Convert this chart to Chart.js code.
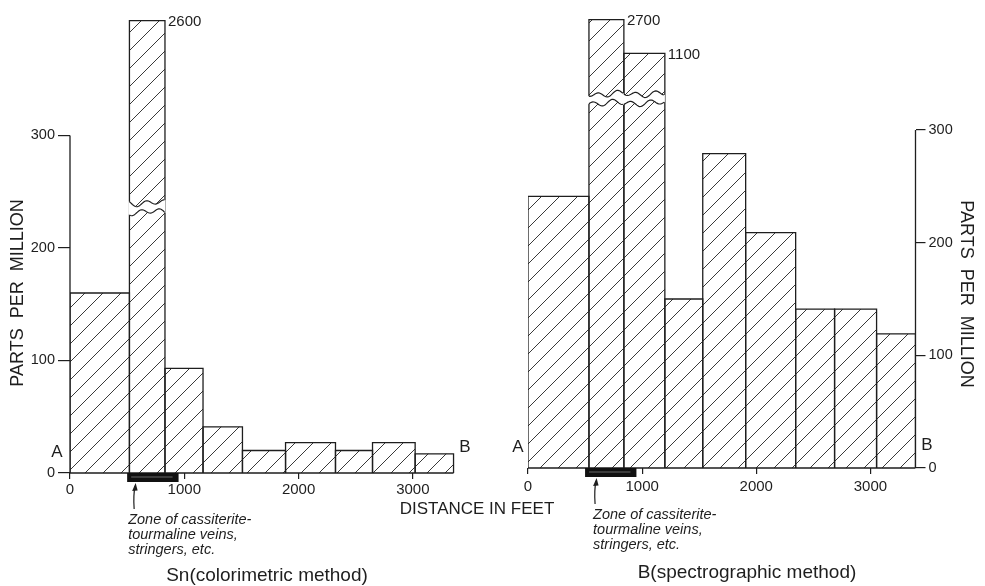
<!DOCTYPE html>
<html><head><meta charset="utf-8">
<script src="https://cdn.jsdelivr.net/npm/chart.js@4.4.1/dist/chart.umd.min.js"></script>
<style>
html,body{margin:0;padding:0;background:#fff;}
#wrap{position:relative;width:985px;height:586px;background:#fff;}
canvas{position:absolute;left:0;top:0;}
</style></head><body>
<div id="wrap"><canvas id="sn" width="985" height="586"></canvas><canvas id="bo" width="985" height="586"></canvas></div>
<script>
// ---------- DATA ----------
// Sn (colorimetric): sample interval boundaries (feet) and values (ppm)
const snEdges   = [0, 520, 831, 1164, 1509, 1886, 2323, 2647, 3020, 3356];
const snValues  = [160, 2600, 93, 41, 20, 27, 20, 27, 17];
// height at which an off-scale bar is drawn (in axis units), and its break band
const snShownTop = [null, 402, null, null, null, null, null, null, null];
const snBreak   = [232, 240];
// B (spectrographic)
const bEdges    = [0, 534, 840, 1199, 1531, 1907, 2345, 2686, 3054, 3395];
const bValues   = [241, 2700, 1100, 150, 279, 209, 141, 141, 119];
const bShownTop = [null, 398, 368, null, null, null, null, null, null];
const bBreak    = [324, 332];
// axes
const xTickValues = [0, 1000, 2000, 3000];
const yTickValues = [0, 100, 200, 300];
const zoneFeet = [500, 950];

const FONT = '"Liberation Sans", Arial, sans-serif';
const INK = '#1e1e1e';

function hatchPattern(){
  const s = 18, c = document.createElement('canvas');
  c.width = s; c.height = s;
  const g = c.getContext('2d');
  g.strokeStyle = '#3a3a3a'; g.lineWidth = 1;
  g.beginPath();
  g.moveTo(-2, s+2); g.lineTo(s+2, -2);
  g.moveTo(-2, 2); g.lineTo(2, -2);
  g.moveTo(s-2, s+2); g.lineTo(s+2, s-2);
  g.stroke();
  return g.createPattern(c, 'repeat');
}

function barDatasets(edges, values, shown){
  const pat = hatchPattern();
  return values.map((v, i) => {
    const h = shown[i] != null ? shown[i] : v;
    return {
      data: [{x: edges[i], y: 0}, {x: edges[i], y: h}, {x: edges[i+1], y: h}, {x: edges[i+1], y: 0}],
      showLine: true, fill: 'origin', backgroundColor: pat,
      borderColor: INK, borderWidth: 1.3, pointRadius: 0, tension: 0
    };
  });
}

function wavePath(x0, x1, y, phase, forward){
  const pts = [];
  for (let x = x0; x <= x1 + 0.01; x += 1) {
    pts.push([x, y + 2.4*Math.sin((x + phase)/3.0) + 1.4*Math.sin((x+phase)/6.7)]);
  }
  if (!forward) pts.reverse();
  return pts;
}

function annotPlugin(o){
  return {
    id: 'annot',
    afterDatasetsDraw(chart){
      const ctx = chart.ctx, xs = chart.scales.x, ys = chart.scales.y;
      const y0 = ys.getPixelForValue(0);
      ctx.save();
      // axis break (white band with wavy edges)
      o.shown.forEach((sh, i) => {
        if (sh == null) return;
        const xa = xs.getPixelForValue(o.edges[i]), xb = xs.getPixelForValue(o.edges[i+1]);
        const yl = ys.getPixelForValue(o.brk[0]), yu = ys.getPixelForValue(o.brk[1]);
        const up = wavePath(xa - 1, xb + 1, yu, 0, true);
        const lo = wavePath(xa - 1, xb + 1, yl, 5, false);
        ctx.fillStyle = '#fff';
        ctx.beginPath();
        up.forEach((p, k) => k ? ctx.lineTo(p[0], p[1]) : ctx.moveTo(p[0], p[1]));
        lo.forEach(p => ctx.lineTo(p[0], p[1]));
        ctx.closePath(); ctx.fill();
        ctx.strokeStyle = INK; ctx.lineWidth = 1.2;
        [wavePath(xa, xb, yu, 0, true), wavePath(xa, xb, yl, 5, true)].forEach(w => {
          ctx.beginPath();
          w.forEach((p, k) => k ? ctx.lineTo(p[0], p[1]) : ctx.moveTo(p[0], p[1]));
          ctx.stroke();
        });
        // true value label
        ctx.fillStyle = INK; ctx.font = '15px ' + FONT;
        ctx.textAlign = 'left'; ctx.textBaseline = 'middle';
        ctx.fillText(String(o.values[i]), xb + 3, ys.getPixelForValue(sh) + 1);
      });
      // baseline and vertical axis line
      ctx.strokeStyle = INK; ctx.lineWidth = 1.3;
      ctx.beginPath();
      ctx.moveTo(xs.getPixelForValue(0), y0);
      ctx.lineTo(xs.getPixelForValue(o.edges[o.edges.length-1]), y0);
      const ax = o.side === 'left' ? chart.chartArea.left : chart.chartArea.right;
      ctx.moveTo(ax, y0); ctx.lineTo(ax, ys.getPixelForValue(yTickValues[yTickValues.length-1]));
      ctx.stroke();
      // zone bar
      const zx0 = xs.getPixelForValue(zoneFeet[0]), zx1 = xs.getPixelForValue(zoneFeet[1]);
      ctx.fillStyle = '#111';
      ctx.fillRect(zx0, y0, zx1 - zx0, 9);
      ctx.fillStyle = '#3c3c3c';
      ctx.fillRect(zx0 + 4, y0 + 3, zx1 - zx0 - 10, 2);
      // arrow
      const axr = zx0 + o.arrowDx;
      ctx.strokeStyle = INK; ctx.lineWidth = 1.2;
      ctx.beginPath();
      ctx.moveTo(axr - 1, y0 + 36);
      ctx.quadraticCurveTo(axr - 2, y0 + 22, axr, y0 + 13);
      ctx.stroke();
      ctx.fillStyle = INK;
      ctx.beginPath();
      ctx.moveTo(axr + 0.5, y0 + 10); ctx.lineTo(axr - 3, y0 + 18); ctx.lineTo(axr + 2.5, y0 + 17.5);
      ctx.closePath(); ctx.fill();
      // zone text
      ctx.font = 'italic 14.5px ' + FONT; ctx.textAlign = 'left'; ctx.textBaseline = 'middle';
      ['Zone of cassiterite-', 'tourmaline veins,', 'stringers, etc.'].forEach((t, k) => {
        ctx.fillText(t, zx0 + o.textDx, y0 + 47 + 15*k);
      });
      // A / B
      ctx.font = '17px ' + FONT; ctx.textAlign = 'center';
      ctx.fillText('A', o.A[0], o.A[1]);
      ctx.fillText('B', o.B[0], o.B[1]);
      // caption
      ctx.font = '19px ' + FONT;
      ctx.fillText(o.caption, o.capPos[0], o.capPos[1]);
      // vertical axis title
      ctx.font = '18px ' + FONT;
      ctx.translate(o.yTitle[0], o.yTitle[1]);
      ctx.rotate(o.side === 'left' ? -Math.PI/2 : Math.PI/2);
      ctx.fillText('PARTS  PER  MILLION', 0, 0);
      ctx.setTransform(1,0,0,1,0,0);
      if (o.xTitle) {
        ctx.font = '17px ' + FONT;
        ctx.fillText('DISTANCE IN FEET', o.xTitle[0], o.xTitle[1]);
      }
      ctx.restore();
    }
  };
}

function makeChart(id, o){
  const c = document.getElementById(id);
  return new Chart(c, {
    type: 'scatter',
    data: { datasets: barDatasets(o.edges, o.values, o.shown) },
    options: {
      responsive: false, animation: false, devicePixelRatio: 1,
      layout: { padding: o.pad },
      plugins: { legend: {display: false}, tooltip: {enabled: false} },
      scales: {
        x: {
          type: 'linear', min: 0, max: o.xMax,
          afterFit(s){ s.height = 30; },
          afterBuildTicks(s){ s.ticks = xTickValues.map(v => ({value: v})); },
          ticks: { callback: v => String(v), font: {family: FONT, size: 15}, color: INK, padding: o.xPad, maxRotation: 0, autoSkip: false },
          grid: { drawOnChartArea: false, drawTicks: true, tickLength: 6, color: INK, lineWidth: 1.2 },
          border: { display: false }
        },
        y: {
          type: 'linear', position: o.side, min: 0, max: o.yMax,
          afterFit(s){ s.width = o.yW; },
          afterBuildTicks(s){ s.ticks = yTickValues.map(v => ({value: v})); },
          ticks: { callback: v => String(v), font: {family: FONT, size: 14.5}, color: INK, padding: 3 },
          grid: { drawOnChartArea: false, drawTicks: true, tickLength: o.yTick, color: INK, lineWidth: 1.2 },
          border: { display: false }
        }
      }
    },
    plugins: [annotPlugin(o)]
  });
}

makeChart('sn', {
  edges: snEdges, values: snValues, shown: snShownTop, brk: snBreak, side: 'left',
  pad: {left: 0, right: 515, top: 8.5, bottom: 83}, xMax: 3500, yMax: 410, yW: 70, yTick: 12, xPad: 2,
  arrowDx: 8, textDx: 1, A: [57, 452], B: [465, 447], caption: 'Sn(colorimetric method)', capPos: [267, 576],
  yTitle: [18, 293], xTitle: [477, 509]
});
makeChart('bo', {
  edges: bEdges, values: bValues, shown: bShownTop, brk: bBreak, side: 'right',
  pad: {left: 528, right: 19.5, top: 6.3, bottom: 88}, xMax: 3395, yMax: 405, yW: 50, yTick: 10, xPad: 4,
  arrowDx: 11, textDx: 8, A: [518, 447], B: [927, 445], caption: 'B(spectrographic method)', capPos: [747, 573],
  yTitle: [966, 294], xTitle: null
});
</script>
</body></html>
